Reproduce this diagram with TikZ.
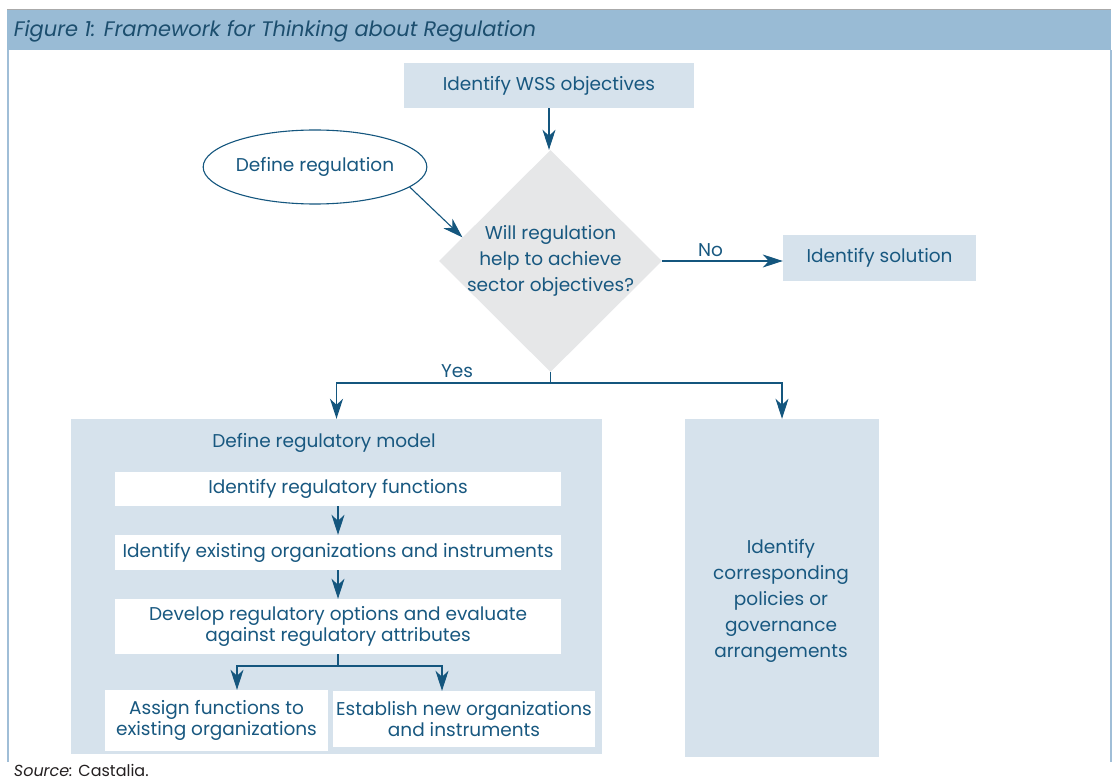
\documentclass[tikz,border=0pt]{standalone}
\usepackage{fontspec}
\setmainfont{Poppins}
\usepackage{xcolor}
\usetikzlibrary{shapes.geometric,arrows.meta}

\begin{document}
\begin{tikzpicture}[x=1pt,y=1pt,yscale=-1,xscale=1,
  every node/.style={inner sep=0.75pt,font=\fontsize{18.5}{26}\selectfont,text={rgb, 255:red, 24; green, 88; blue, 128 }},
  tint/.style={fill={rgb, 255:red, 214; green, 226; blue, 236 },align=center},
  plain/.style={fill=white,align=center,font=\fontsize{18.5}{21}\selectfont},
  link/.style={color={rgb, 255:red, 20; green, 86; blue, 126 },line width=1.1pt},
  arr/.style={link,-{Stealth[length=20pt,width=13pt,inset=6pt]}}
]
\path[use as bounding box] (0,0) rectangle (1113,783);

%Title bar
\fill [color={rgb, 255:red, 153; green, 187; blue, 213 }] (7,9) rectangle (1111,50) ;
\draw [color={rgb, 255:red, 170; green, 170; blue, 170 }, line width=0.6pt] (7,9) -- (1111,9) ;
%Frame sides
\draw [color={rgb, 255:red, 160; green, 190; blue, 215 }, line width=1.6pt] (8,50) -- (8,762) ;
\draw [color={rgb, 255:red, 160; green, 190; blue, 215 }, line width=1.6pt] (1111,50) -- (1111,762) ;

% Text Node
\node [anchor=west, font=\itshape\fontsize{21}{24}\selectfont, text={rgb, 255:red, 28; green, 78; blue, 110 }] (title) at (13,31) {Figure 1: Framework for Thinking about Regulation};

%Shape: Rectangle
\node [tint, minimum width=290pt, minimum height=45pt] (wss) at (549,85.5) {Identify WSS objectives};
%Shape: Diamond
\node [diamond, aspect=1, fill={rgb, 255:red, 230; green, 231; blue, 232 }, minimum width=223pt, minimum height=222pt, inner sep=-16pt, align=center] (dec) at (550.5,261) {Will regulation\\help to achieve\\sector objectives?};
%Shape: Ellipse
\node [ellipse, draw={rgb, 255:red, 20; green, 86; blue, 126 }, line width=1.1pt, fill=white, minimum width=205pt, minimum height=74pt, inner sep=0pt] (reg) at (315,167) {Define regulation};
%Shape: Rectangle
\node [tint, minimum width=193pt, minimum height=46pt] (sol) at (879.5,258) {Identify solution};

%Shape: Rectangle
\node [tint, minimum width=531pt, minimum height=335pt] (model) at (336.5,586.5) {};
% Text Node
\node (modeltitle) at (324,443) {Define regulatory model};
%Shape: Rectangle
\node [tint, minimum width=194pt, minimum height=338pt] (policy) at (782,588) {};
% Text Node
\node [align=center] (policytext) at (781,600.5) {Identify\\corresponding\\policies or\\governance\\arrangements};

%Shape: Rectangle
\node [plain, minimum width=446pt, minimum height=34pt] (f1) at (338,489) {Identify regulatory functions};
\node [plain, minimum width=446pt, minimum height=35pt] (f2) at (338,552.5) {Identify existing organizations and instruments};
\node [plain, minimum width=446pt, minimum height=55pt] (f3) at (338,626.5) {Develop regulatory options and evaluate\\against regulatory attributes};
\node [plain, minimum width=223pt, minimum height=61pt] (f4) at (216.5,720.5) {Assign functions to\\existing organizations};
\node [plain, minimum width=262pt, minimum height=56pt] (f5) at (464,719) {Establish new organizations\\and instruments};

%Straight Lines
\draw [arr] (wss.south) -- (wss.south |- dec.north) ;
\draw [arr] (reg.-12) -- (dec.165) ;
\draw [arr] (dec.east) -- (dec.east -| sol.west) node [pos=0.4, above=3pt] (no) {No} ;
%Yes branch
\coordinate (yes) at (dec.south |- 0,383) ;
\draw [link] (dec.south) -- (yes) ;
\draw [arr] (yes) -| (model.north) ;
\draw [arr] (yes) -| (policy.north) ;
\node (yeslbl) at (457,371) {Yes};

%Inside the model
\draw [arr] (f1) -- (f2) ;
\draw [arr] (f2) -- (f3) ;
\coordinate (split) at (f3.south |- 0,666) ;
\draw [link] (f3.south) -- (split) ;
\draw [arr] (split) -| ([xshift=20.5pt]f4.north) ;
\draw [arr] (split) -| ([xshift=-22pt]f5.north) ;

% Text Node
\node [anchor=west, font=\fontsize{16}{18}\selectfont, text={rgb, 255:red, 35; green, 31; blue, 32 }] (src) at (13,770) {\textit{Source:} Castalia.};

\end{tikzpicture}
\end{document}
